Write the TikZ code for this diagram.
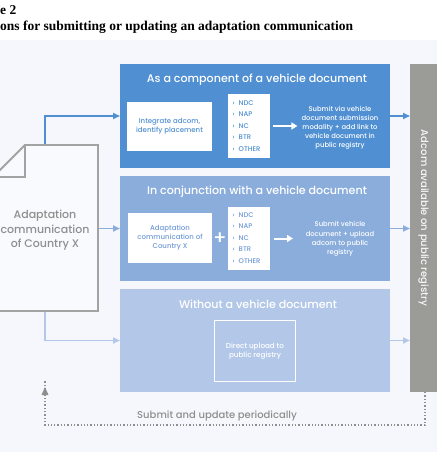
\documentclass[tikz,border=0pt]{standalone}
\usepackage{fontspec}
\setmainfont{Liberation Serif}
\newfontfamily\pop{Poppins Medium}
\usetikzlibrary{arrows.meta}
\definecolor{bg}{HTML}{F5F7FC}
\definecolor{bA}{HTML}{4F8FD2}
\definecolor{bB}{HTML}{8AADDC}
\definecolor{bC}{HTML}{B3C8E8}
\definecolor{tB}{HTML}{6F9AD6}
\definecolor{gbar}{HTML}{9B9B97}
\definecolor{docg}{HTML}{A3A3A3}
\definecolor{txtg}{HTML}{8E8E8E}
\begin{document}
\begin{tikzpicture}[x=1pt,y=-1pt,
  box/.style={anchor=north west,inner sep=0pt,outer sep=0pt},
  wbox/.style={fill=white,inner sep=0pt,outer sep=0pt,align=center,font=\pop\fontsize{7}{8.8}\selectfont},
  ttl/.style={text=white,font=\pop\fontsize{11.1}{12}\selectfont},
  lst/.style={fill=white,inner sep=0pt,outer sep=0pt,minimum width=42pt},
  item/.style={anchor=west,inner sep=0pt,font=\pop\fontsize{6.8}{7}\selectfont},
  sub/.style={text=white,align=center,inner sep=0pt,font=\pop\fontsize{6.8}{9}\selectfont},
  warrow/.style={white,line width=2pt,-{Triangle[length=6pt,width=7pt]}},
  conn/.style={line width=1.6pt,-{Triangle[length=7pt,width=6pt]}}
]
\useasboundingbox (0,0) rectangle (437,461);
\fill[bg] (0,40) rectangle (437,452);
\node[anchor=base west,inner sep=0pt,font=\fontsize{13.5}{15}\selectfont\bfseries] (fig) at (0,14) {e 2};
\node[anchor=base west,inner sep=0pt,font=\fontsize{13.5}{15}\selectfont\bfseries] (cap) at (0,30) {ons for submitting or updating an adaptation communication};

% boxes
\node[box,fill=bA,minimum width=270pt,minimum height=104pt] (b1) at (120,64) {};
\node[box,fill=bB,minimum width=270pt,minimum height=105pt] (b2) at (120,176) {};
\node[box,fill=bC,minimum width=270pt,minimum height=103pt] (b3) at (120,289) {};
\node[box,fill=gbar,minimum width=27pt,minimum height=328pt] (g) at (410,64) {};
\node[rotate=-90,text=white!92!gbar,font=\pop\fontsize{10}{11}\selectfont] (gt) at (423.5,218) {Adcom available on public registry};

% box 1
\node[ttl] (t1) at (257,80) {As a component of a vehicle document};
\node[wbox,text=bA,minimum width=85pt,minimum height=49pt] (w1) at (169.5,126.5) {Integrate adcom,\\identify placement};
\node[lst,minimum height=64pt] (l1) at (249,126) {};
\foreach \t [count=\i] in {NDC,NAP,NC,BTR,OTHER}
  \node[item,text=bA] (l1i\i) at (232.5,{91.5+11.5*\i}) {›\hspace{4pt}\t};
\node[sub] (s1) at (340,128) {Submit via vehicle\\document submission\\modality + add link to\\vehicle document in\\public registry};
\draw[warrow] ([xshift=3pt]l1.east) -- ([xshift=-4pt]s1.west |- l1.east);

% box 2
\node[ttl] (t2) at (257,192) {In conjunction with a vehicle document};
\node[wbox,text=tB,minimum width=84pt,minimum height=50pt] (w2) at (170,238) {Adaptation\\communication of\\Country X};
\node[text=white,inner sep=0pt,font=\pop\fontsize{19}{19}\selectfont] (plus) at (220,239) {+};
\node[lst,minimum height=63pt] (l2) at (249,238.5) {};
\foreach \t [count=\i] in {NDC,NAP,NC,BTR,OTHER}
  \node[item,text=tB] (l2i\i) at (232.5,{203.5+11.5*\i}) {›\hspace{4pt}\t};
\node[sub,font=\pop\fontsize{6.8}{9.3}\selectfont] (s2) at (340,239) {Submit vehicle\\document + upload\\adcom to public\\registry};
\draw[warrow] ([xshift=4pt]l2.east) -- ++(19,0);

% box 3
\node[ttl] (t3) at (258,304) {Without a vehicle document};
\node[draw=white,line width=1.6pt,fill=bC,minimum width=81pt,minimum height=61pt,inner sep=0pt,text=white,align=center,font=\pop\fontsize{7.2}{9.4}\selectfont] (d3) at (255,351) {Direct upload to\\public registry};

% outgoing arrows
\draw[conn,bA] (b1.east) -- (b1.east -| g.west);
\draw[conn,bB] (b2.east) -- (b2.east -| g.west);
\draw[conn,bC] (b3.east) -- (b3.east -| g.west);

% document
\coordinate (dtop) at (45,145);
\coordinate (dright) at (98,228.5);
\coordinate (dbot) at (45,311);
\draw[conn,bA] (dtop) -- (dtop |- b1.west) -- (b1.west);
\draw[conn,bB] (dright) -- (b2.west);
\draw[conn,bC] (dbot) -- (dbot |- b3.west) -- (b3.west);
\draw[docg,line width=1.8pt,fill=white!40!bg,line join=miter] (25,145) -- (98,145) -- (98,311) -- (-7,311) -- (-7,177) -- cycle;
\draw[docg,line width=1.8pt] (25,145) -- (25,177) -- (-7,177);
\node[text=txtg,align=center,font=\pop\fontsize{11}{14.5}\selectfont] (doc) at (45,230.5) {Adaptation\\communication\\of Country X};

% periodic loop
\coordinate (gb) at (425,392);
\coordinate (lc) at (45,387);
\draw[txtg,line width=1.3pt,dash pattern=on 1.3pt off 2pt] (gb) -- (425,425) -- (45,425) -- ([yshift=6pt]lc);
\fill[txtg] (lc) -- ++(-3.5,8) -- ++(7,0) -- cycle;
\node[anchor=base west,inner sep=0pt,text=txtg,font=\pop\fontsize{10}{12}\selectfont] (per) at (137,418) {Submit and update periodically};
\end{tikzpicture}
\end{document}
